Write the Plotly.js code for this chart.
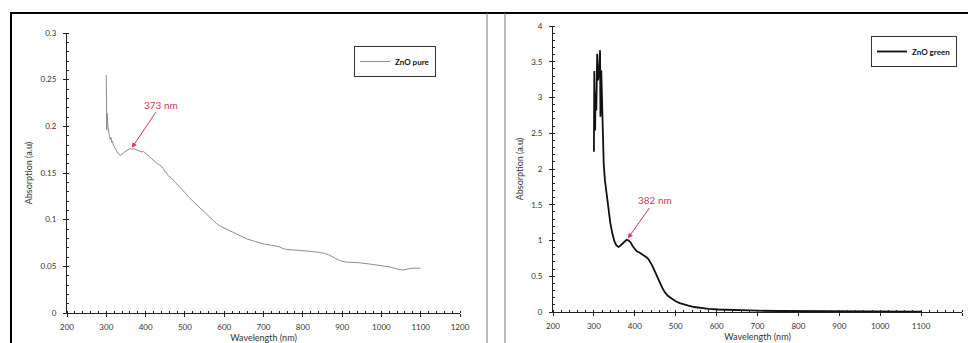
<!DOCTYPE html>
<html>
<head>
<meta charset="utf-8">
<script src="https://cdn.plot.ly/plotly-3.0.1.min.js"></script>
<style>html,body{margin:0;padding:0;background:#fff;}#chart{width:968px;height:343px;}</style>
</head>
<body>
<div id="chart"></div>
<script>
// ZnO pure absorption spectrum
const pureWavelength = [300,301,302,304,306,308,310,312,314,316,318,322,326,330,335,340,345,350,355,360,365,370,375,380,385,390,395,400,405,410,415,420,425,430,435,440,445,448,452,456,460,465,470,475,480,490,500,510,520,530,540,550,560,570,580,590,600,620,640,660,680,700,720,740,750,760,780,800,820,840,855,865,880,895,910,940,970,1000,1020,1040,1055,1065,1080,1100];
const pureAbsorption = [0.255,0.196,0.214,0.200,0.193,0.190,0.186,0.188,0.183,0.184,0.180,0.177,0.173,0.171,0.169,0.170,0.172,0.174,0.175,0.176,0.1755,0.176,0.175,0.174,0.1735,0.1725,0.173,0.171,0.169,0.167,0.165,0.163,0.162,0.160,0.159,0.157,0.155,0.152,0.151,0.148,0.146,0.145,0.142,0.140,0.138,0.134,0.129,0.124,0.120,0.115,0.111,0.107,0.103,0.099,0.096,0.093,0.091,0.087,0.083,0.079,0.0765,0.074,0.0725,0.071,0.069,0.068,0.0675,0.067,0.066,0.065,0.064,0.0625,0.059,0.056,0.0545,0.054,0.0525,0.051,0.0495,0.047,0.046,0.047,0.048,0.048];

// ZnO green absorption spectrum
const greenWavelength = [300,301,303,304,306,308,310,313,315,316,318,320,322,324,327,331,335,340,345,350,355,360,365,370,375,380,385,390,395,400,405,412,418,424,430,434,438,442,446,450,455,461,467,473,480,490,500,510,520,531,545,563,580,604,650,700,750,800,900,1000,1100];
const greenAbsorption = [2.24,3.37,2.54,3.06,2.82,3.61,3.24,3.38,3.66,2.73,3.38,2.79,2.21,2.07,1.84,1.65,1.45,1.25,1.10,0.99,0.93,0.91,0.93,0.96,0.99,1.01,1.0,0.97,0.92,0.88,0.85,0.83,0.81,0.79,0.76,0.735,0.70,0.655,0.605,0.55,0.48,0.40,0.34,0.28,0.23,0.19,0.15,0.125,0.105,0.09,0.07,0.055,0.045,0.035,0.025,0.018,0.014,0.012,0.009,0.007,0.005];

const seriesNames = ["ZnO pure", "ZnO green"];
const peakLabels = ["373 nm", "382 nm"];
const peakPoints = [[365, 0.177], [383, 1.03]];

const FONT = "Lato, 'Open Sans', sans-serif";
const RED = "#d2385f";

const traces = [
  {x: pureWavelength, y: pureAbsorption, xaxis: 'x', yaxis: 'y', type: 'scatter', mode: 'lines',
   name: '<b>' + seriesNames[0] + '</b>', line: {color: '#8c8c8c', width: 1}, legend: 'legend'},
  {x: greenWavelength, y: greenAbsorption, xaxis: 'x2', yaxis: 'y2', type: 'scatter', mode: 'lines',
   name: '<b>' + seriesNames[1] + '</b>', line: {color: '#111', width: 1.8}, legend: 'legend2'}
];

const tickFont = {family: FONT, size: 8, color: '#333'};
const titleFont = {family: FONT, size: 9, color: '#333'};

function xAxis(domain, anchor) {
  return {domain: domain, anchor: anchor, range: [200, 1200], dtick: 100, tick0: 200,
    showline: true, linecolor: '#222', linewidth: 1, showgrid: false, zeroline: false,
    ticks: 'outside', ticklen: 3, tickcolor: '#222', tickfont: tickFont, ticklabelstandoff: 3,
    minor: {dtick: 20, ticks: 'inside', ticklen: 2, tickcolor: '#222'},
    title: {text: 'Wavelength (nm)', font: titleFont, standoff: 3}, fixedrange: true};
}
function yAxis(domain, anchor, range, dtick, minor) {
  return {domain: domain, anchor: anchor, range: range, dtick: dtick, tick0: 0,
    showline: true, linecolor: '#222', linewidth: 1, showgrid: false, zeroline: false,
    ticks: 'outside', ticklen: 3, tickcolor: '#222', tickfont: tickFont, ticklabelstandoff: 5,
    minor: {dtick: minor, ticks: 'inside', ticklen: 2, tickcolor: '#222'},
    title: {text: 'Absorption (a.u)', font: titleFont, standoff: 6}, fixedrange: true};
}

const layout = {
  width: 968, height: 343, autosize: false,
  margin: {l: 0, r: 0, t: 0, b: 0},
  paper_bgcolor: '#fff', plot_bgcolor: '#fff',
  font: {family: FONT},
  xaxis: xAxis([67/968, 460/968], 'y'),
  yaxis: yAxis([30/343, 310/343], 'x', [0, 0.3], 0.05, 0.01),
  xaxis2: xAxis([553/968, 962/968], 'y2'),
  yaxis2: yAxis([31/343, 317/343], 'x2', [0, 4], 0.5, 0.1),
  legend: {x: 354/968, y: (343-46)/343, xanchor: 'left', yanchor: 'top',
    bordercolor: '#333', borderwidth: 1, bgcolor: '#fff',
    font: {family: FONT, size: 8, color: '#111'}},
  legend2: {x: 871/968, y: (343-36)/343, xanchor: 'left', yanchor: 'top',
    bordercolor: '#333', borderwidth: 1, bgcolor: '#fff',
    font: {family: FONT, size: 8, color: '#111'}},
  showlegend: true,
  annotations: [
    {xref: 'x', yref: 'y', x: peakPoints[0][0], y: peakPoints[0][1], text: peakLabels[0],
     showarrow: true, ax: 29, ay: -43, arrowcolor: RED, arrowhead: 2, arrowsize: 1, arrowwidth: 1,
     font: {family: FONT, size: 10, color: RED}},
    {xref: 'x2', yref: 'y2', x: peakPoints[1][0], y: peakPoints[1][1], text: peakLabels[1],
     showarrow: true, ax: 27, ay: -38, arrowcolor: RED, arrowhead: 2, arrowsize: 1, arrowwidth: 1,
     font: {family: FONT, size: 10, color: RED}}
  ],
  shapes: [
    {type: 'line', xref: 'paper', yref: 'paper', x0: 10/968, x1: 1, y0: (343-13)/343, y1: (343-13)/343,
     line: {color: '#000', width: 2}},
    {type: 'line', xref: 'paper', yref: 'paper', x0: 11/968, x1: 11/968, y0: 0, y1: (343-13)/343,
     line: {color: '#000', width: 2}},
    {type: 'line', xref: 'paper', yref: 'paper', x0: 487/968, x1: 487/968, y0: 0, y1: (343-13)/343,
     line: {color: '#777', width: 1}},
    {type: 'line', xref: 'paper', yref: 'paper', x0: 505/968, x1: 505/968, y0: 0, y1: (343-13)/343,
     line: {color: '#777', width: 1}}
  ]
};

Plotly.newPlot('chart', traces, layout, {displayModeBar: false, staticPlot: true});
</script>
</body>
</html>
